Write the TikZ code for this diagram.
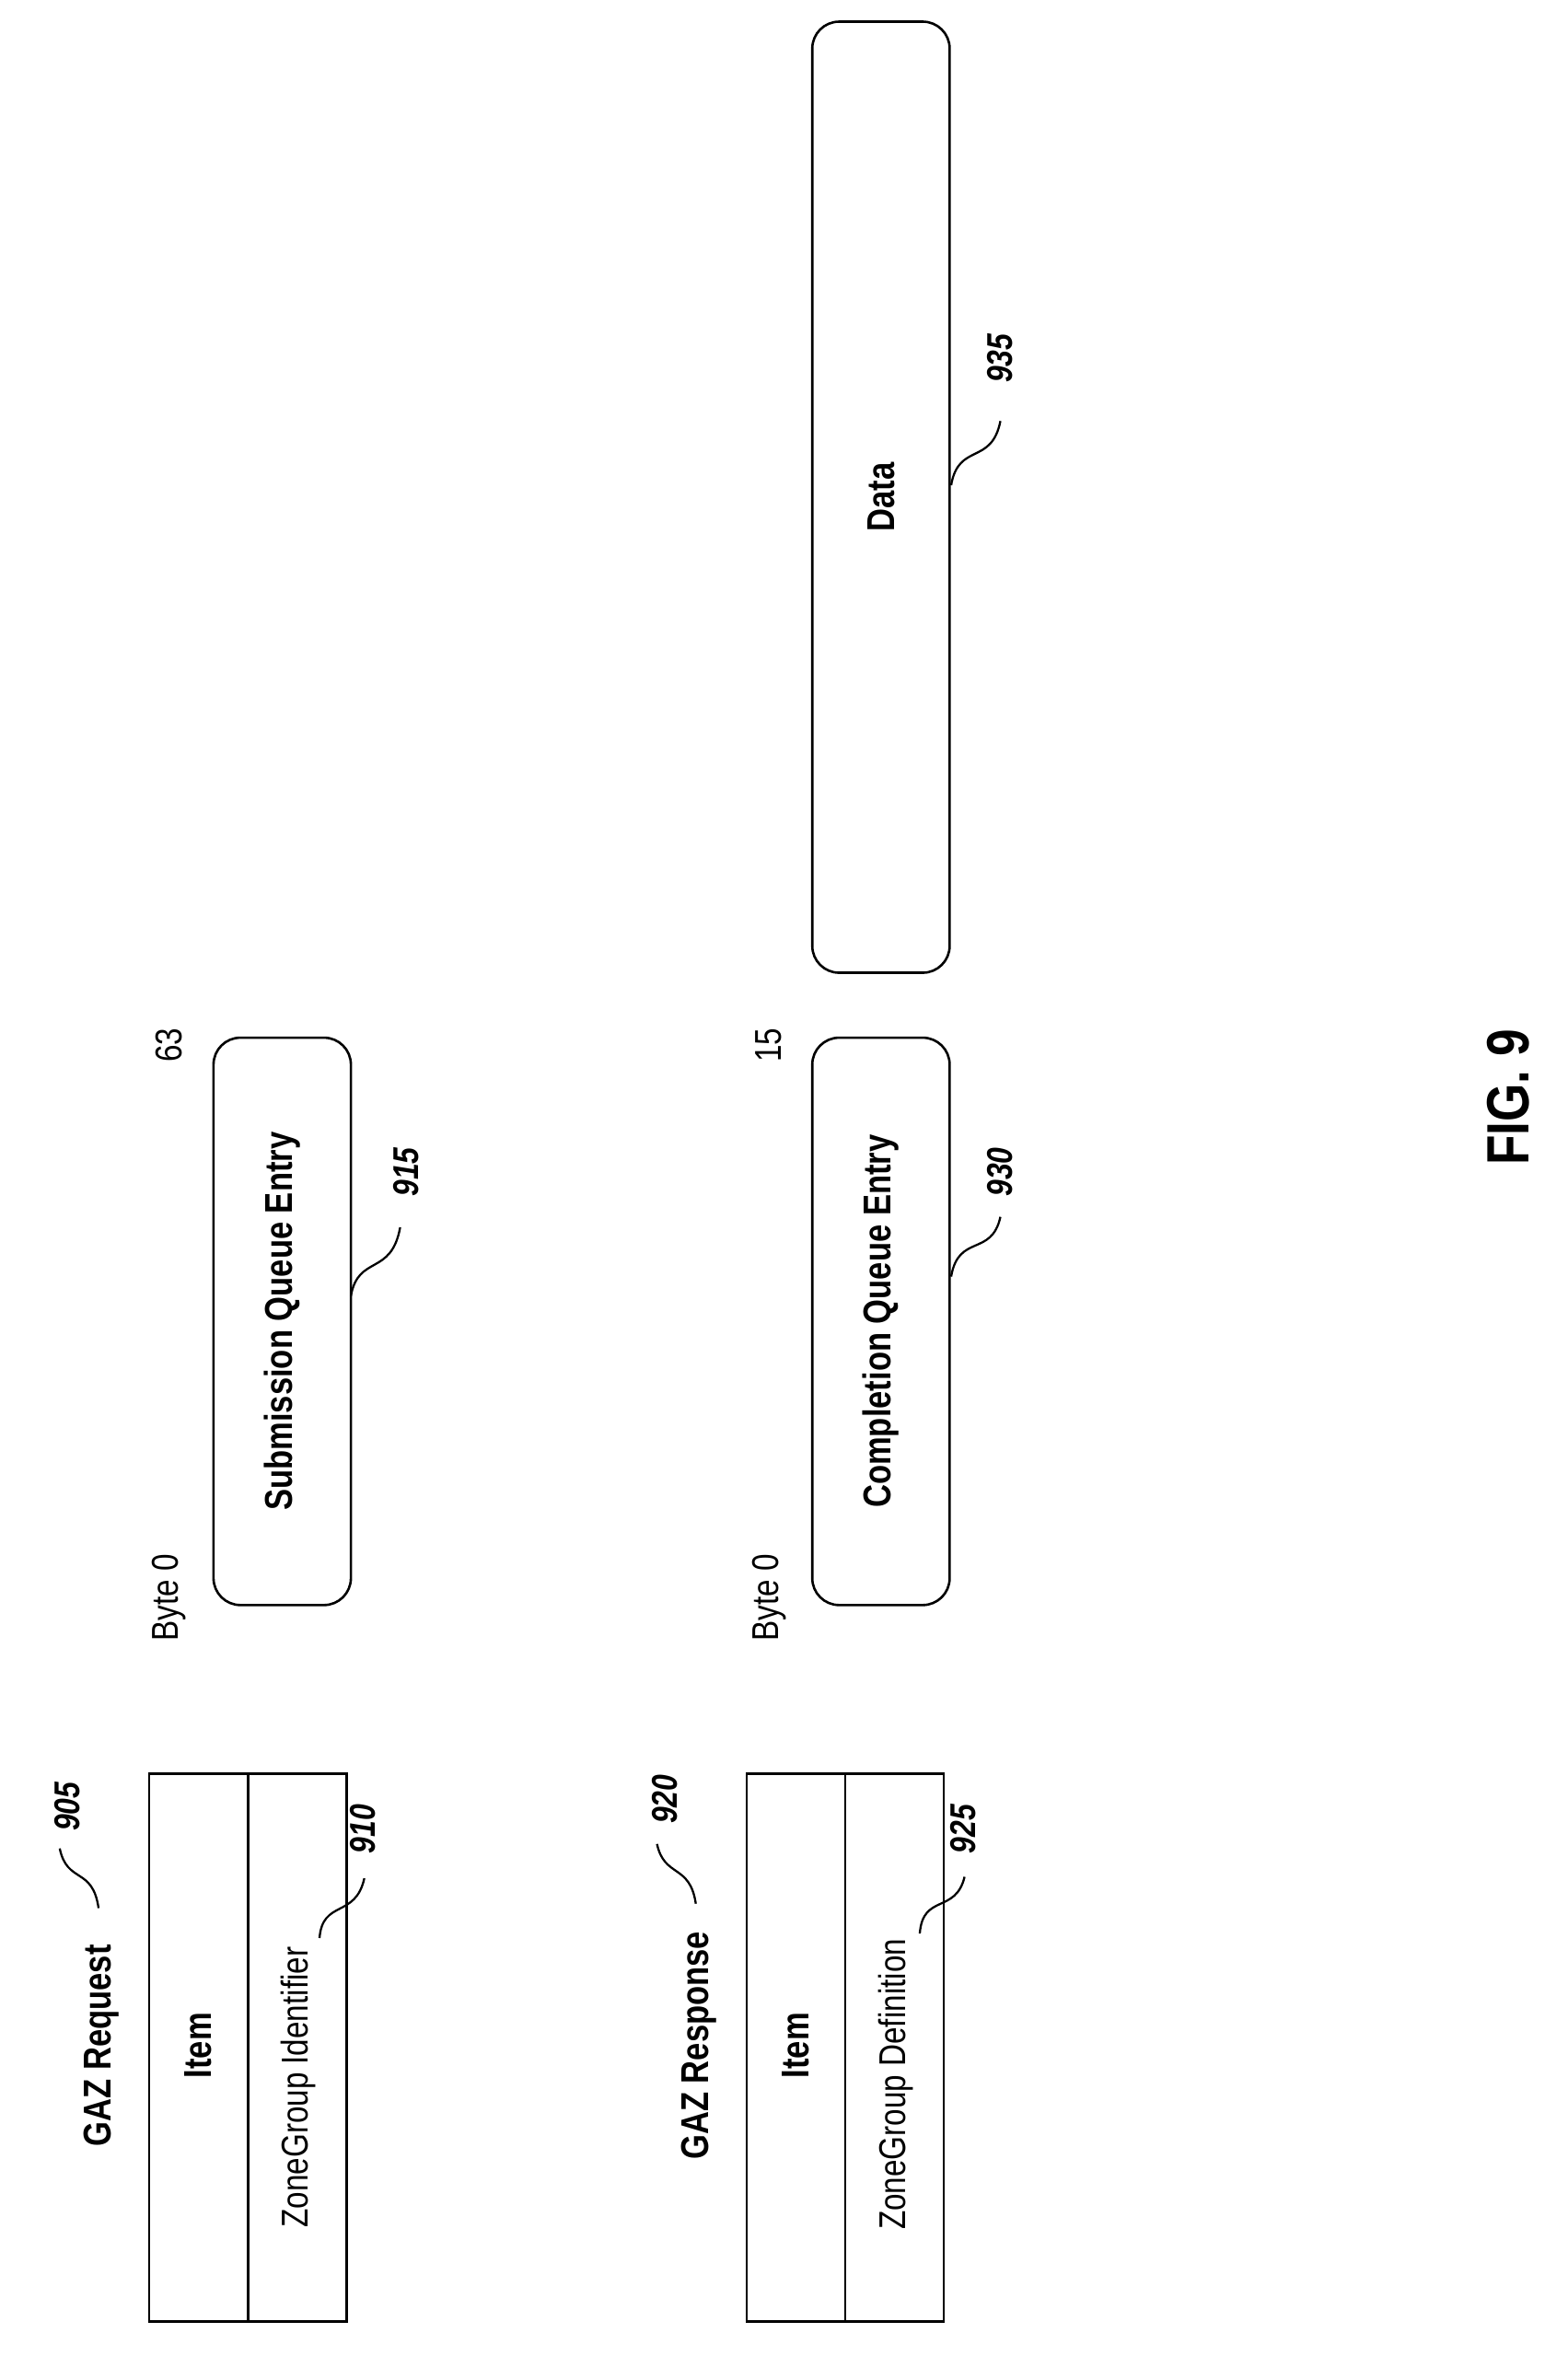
\documentclass[tikz,border=0pt]{standalone}
\usepackage{fontspec}
\setmainfont{Liberation Sans}[FakeStretch=0.82]
\begin{document}
\begin{tikzpicture}[x=1pt,y=-1pt,
  box/.style={draw,line width=1.6pt,rounded corners=18pt},
  lab/.style={rotate=90,font=\fontsize{24}{28}\selectfont\bfseries\itshape},
  txt/.style={rotate=90,font=\fontsize{25}{30}\selectfont},
  btxt/.style={rotate=90,font=\fontsize{26}{30}\selectfont\bfseries},
  lead/.style={line width=1.4pt}]
\useasboundingbox (0,0) rectangle (1050,1586);
% table 1
\draw[line width=1.6pt] (100,1188) rectangle (232,1555);
\draw[line width=1.6pt] (166,1188) -- (166,1555);
\node[btxt] (i1) at (133,1370) {Item};
\node[txt] (z1) at (200,1398) {ZoneGroup Identifier};
\node[btxt] (g1) at (68,1370) {GAZ Request};
\node[lab] (n905) at (45,1210) {905};
\coordinate (a905) at (66,1278);
\draw[lead] (a905) .. controls (62,1250) and (45,1262) .. (40,1238);
\node[lab] (n910) at (243,1225) {910};
\coordinate (a910) at (214,1298);
\draw[lead] (a910) .. controls (216,1272) and (238,1285) .. (244,1258);
% table 2
\draw[line width=1.6pt] (500,1188) rectangle (632,1555);
\draw[line width=1.6pt] (566,1188) -- (566,1555);
\node[btxt] (i2) at (533,1370) {Item};
\node[txt] (z2) at (600,1396) {ZoneGroup Definition};
\node[btxt] (g2) at (468,1370) {GAZ Response};
\node[lab] (n920) at (445,1205) {920};
\coordinate (a920) at (466,1275);
\draw[lead] (a920) .. controls (462,1248) and (445,1258) .. (440,1235);
\node[lab] (n925) at (645,1225) {925};
\coordinate (a925) at (616,1295);
\draw[lead] (a925) .. controls (618,1268) and (640,1282) .. (646,1257);
% submission
\node[box,minimum width=380pt,minimum height=92pt,rotate=90] (sq) at (189,885) {};
\node[btxt] (sqt) at (189,885) {Submission Queue Entry};
\node[txt] (b0a) at (113,1070) {Byte 0};
\node[txt] (b63) at (113,700) {63};
\node[lab] (n915) at (272,785) {915};
\coordinate (a915) at (235,868);
\draw[lead] (a915) .. controls (240,840) and (262,855) .. (268,822);
% completion
\node[box,minimum width=380pt,minimum height=92pt,rotate=90] (cq) at (590,885) {};
\node[btxt] (cqt) at (590,885) {Completion Queue Entry};
\node[txt] (b0b) at (515,1070) {Byte 0};
\node[txt] (b15) at (515,700) {15};
\node[lab] (n930) at (670,785) {930};
\coordinate (a930) at (637,855);
\draw[lead] (a930) .. controls (642,826) and (664,842) .. (670,815);
% data
\node[box,minimum width=637pt,minimum height=92pt,rotate=90] (dt) at (590,333) {};
\node[btxt] (dtt) at (590,333) {Data};
\node[lab] (n935) at (670,240) {935};
\coordinate (a935) at (637,325);
\draw[lead] (a935) .. controls (642,296) and (664,312) .. (670,282);
\node[rotate=90,font=\fontsize{40}{46}\selectfont\bfseries] (fig) at (1010,735) {FIG. 9};
\end{tikzpicture}
\end{document}
